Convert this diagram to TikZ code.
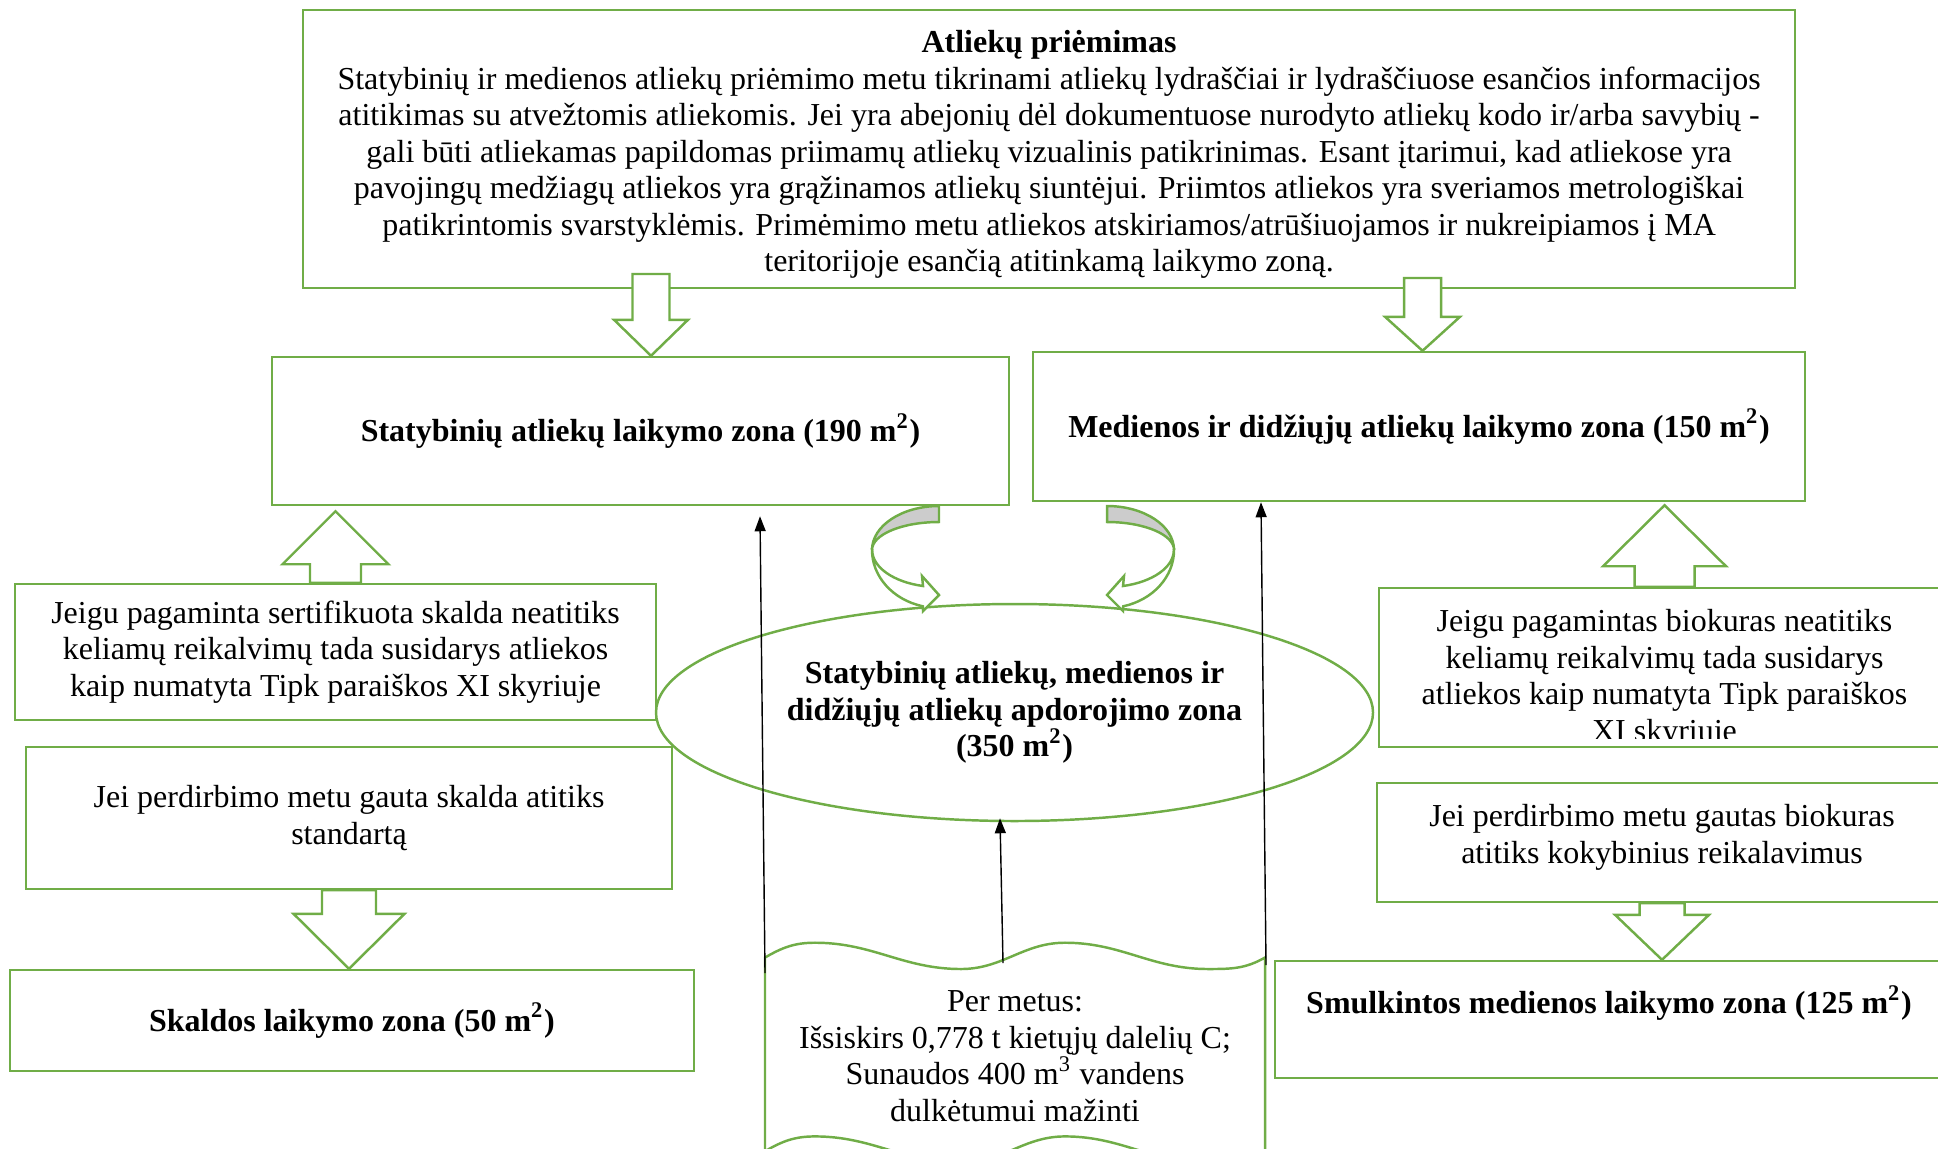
\documentclass[tikz,border=0pt]{standalone}
\usepackage{fontspec}
\setmainfont{Liberation Serif}
\usetikzlibrary{positioning, arrows.meta, calc, shapes.geometric}

\definecolor{leaf}{RGB}{112,173,71}
\definecolor{shade}{RGB}{204,204,204}
\newcommand{\zonefont}{\fontsize{9.1}{10.4}\selectfont}

% tail, tip, half shaft, half head, head length
\newcommand{\blockarrow}[5]{%
  \draw[fat] let \p1=(#1), \p2=(#2), \n1={sign(\y2-\y1)}, \n2={\y2-\n1*#5} in
    ({\x1-#3},\y1) -- ({\x1-#3},\n2) -- ({\x1-#4},\n2) -- (\x1,\y2)
    -- ({\x1+#4},\n2) -- ({\x1+#3},\n2) -- ({\x1+#3},\y1) -- cycle;}

\begin{document}
\begin{tikzpicture}[font=\zonefont,box/.style={draw=leaf, line width=0.7pt, fill=white, inner sep=0pt, align=center},fat/.style={draw=leaf, line width=0.7pt, fill=white},pointer/.style={-{Triangle[length=1.5mm,width=1.1mm]}, line width=0.4pt}]

  \clip (0,0) rectangle (19.38,-11.48);

  % Acceptance
  \node[box, minimum width=14.92cm, minimum height=2.78cm] (accept) at (10.49,-1.49) {};
  \node[inner sep=0pt, align=center, below=0.21cm of accept.north] (accepttext) {\textbf{Atliekų priėmimas}\\
    Statybinių ir medienos atliekų priėmimo metu tikrinami atliekų lydraščiai ir lydraščiuose esančios informacijos\\
    atitikimas su atvežtomis atliekomis. Jei yra abejonių dėl dokumentuose nurodyto atliekų kodo ir/arba savybių -\\
    gali būti atliekamas papildomas priimamų atliekų vizualinis patikrinimas. Esant įtarimui, kad atliekose yra\\
    pavojingų medžiagų atliekos yra grąžinamos atliekų siuntėjui. Priimtos atliekos yra sveriamos metrologiškai\\
    patikrintomis svarstyklėmis. Primėmimo metu atliekos atskiriamos/atrūšiuojamos ir nukreipiamos į MA\\
    teritorijoje esančią atitinkamą laikymo zoną.};

  % Storage zones
  \node[box, minimum width=7.37cm, minimum height=1.48cm, font=\zonefont\bfseries] (constr) at (6.405,-4.31) {Statybinių atliekų laikymo zona (190 m\textsuperscript{2})};
  \node[box, minimum width=7.72cm, minimum height=1.49cm, font=\zonefont\bfseries] (wood) at (14.19,-4.265) {Medienos ir didžiųjų atliekų laikymo zona (150 m\textsuperscript{2})};

  % Left side
  \node[box, minimum width=6.41cm, minimum height=1.36cm] (crushbad) at (3.355,-6.52) {Jeigu pagaminta sertifikuota skalda neatitiks\\ keliamų reikalvimų tada susidarys atliekos\\ kaip numatyta Tipk paraiškos XI skyriuje};
  \node[box, minimum width=6.46cm, minimum height=1.42cm] (crushok) at (3.49,-8.18) {Jei perdirbimo metu gauta skalda atitiks\\ standartą};
  \node[box, minimum width=6.84cm, minimum height=1.01cm, font=\zonefont\bfseries] (crushzone) at (3.52,-10.205) {Skaldos laikymo zona (50 m\textsuperscript{2})};

  % Right side
  \node[box, minimum width=5.71cm, minimum height=1.59cm] (biobad) at (16.645,-6.675) {};
  \begin{scope}
    \clip (biobad.north west) rectangle ([yshift=1mm]biobad.south east);
    \node[align=center, inner sep=0pt, below=0.22cm of biobad.north] (biobadtext) {Jeigu pagamintas biokuras neatitiks\\ keliamų reikalvimų tada susidarys\\ atliekos kaip numatyta Tipk paraiškos\\ XI skyriuje};
  \end{scope}
  \node[box, minimum width=5.70cm, minimum height=1.19cm] (biook) at (16.62,-8.425) {};
  \node[align=center, inner sep=0pt, below=0.22cm of biook.north] (biooktext) {Jei perdirbimo metu gautas biokuras\\ atitiks kokybinius reikalavimus};
  \node[box, minimum width=6.68cm, minimum height=1.17cm] (chipzone) at (16.09,-10.195) {};
  \node[inner sep=0pt, font=\zonefont\bfseries, below=0.25cm of chipzone.north] (chiptext) {Smulkintos medienos laikymo zona (125 m\textsuperscript{2})};

  % Block arrows
  \coordinate (accL) at (6.51,-2.74);
  \coordinate (accR) at (14.225,-2.78);
  \blockarrow{accL}{accL |- constr.north}{0.185cm}{0.37cm}{0.36cm}
  \blockarrow{accR}{accR |- wood.north}{0.185cm}{0.375cm}{0.34cm}
  \blockarrow{crushbad.north}{$(crushbad.north |- constr.south)+(0,-0.05)$}{0.255cm}{0.53cm}{0.53cm}
  \blockarrow{biobad.north}{$(biobad.north |- wood.south)+(0,-0.03)$}{0.30cm}{0.615cm}{0.61cm}
  \blockarrow{crushok.south}{crushok.south |- crushzone.north}{0.27cm}{0.555cm}{0.55cm}
  \blockarrow{biook.south}{biook.south |- chipzone.north}{0.225cm}{0.47cm}{0.45cm}

  % Processing zone
  \node[ellipse, draw=leaf, line width=0.7pt, fill=white, minimum width=7.17cm, minimum height=2.17cm, inner sep=0pt, align=center, font=\zonefont\bfseries] (process) at (10.145,-7.125) {Statybinių atliekų, medienos ir\\ didžiųjų atliekų apdorojimo zona\\ (350 m\textsuperscript{2})};

  % Curved arrows
  \foreach \flip in {1,-1} {
    \begin{scope}[xshift={10.23cm-\flip*10.23cm}, xscale=\flip]
      \filldraw[fat, fill=shade] (9.39,-5.06) arc[start angle=90, end angle=180, x radius=0.67cm, y radius=0.44cm] arc[start angle=180, end angle=90, x radius=0.67cm, y radius=0.28cm] -- cycle;
      \filldraw[fat] (8.72,-5.50) arc[start angle=180, end angle=256, x radius=0.67cm, y radius=0.58cm] -- (9.23,-6.11) -- (9.39,-5.95) -- (9.22,-5.76) -- (9.23,-5.86) arc[start angle=256, end angle=180, x radius=0.67cm, y radius=0.37cm] -- cycle;
    \end{scope}
  }

  % Yearly figures
  \draw[fat] (7.65,-9.575) to[out=30,in=180] (8.15,-9.427) to[out=0,in=180] (9.61,-9.69) to[out=0,in=180] (10.65,-9.427) to[out=0,in=180] (12.08,-9.69) to[out=0,in=210] (12.65,-9.575)
    -- (12.65,-11.512) to[out=210,in=0] (12.08,-11.627) to[out=180,in=0] (10.65,-11.364) to[out=180,in=0] (9.61,-11.627) to[out=180,in=0] (8.15,-11.364) to[out=180,in=30] (7.65,-11.512) -- cycle;
  \node[align=center, inner sep=0pt] (yearly) at (10.15,-10.56) {Per metus:\\ Išsiskirs 0,778 t kietųjų dalelių C;\\ Sunaudos 400 m\textsuperscript{3} vandens\\ dulkėtumui mažinti};
  \coordinate (docL) at (7.65,-9.73);
  \coordinate (docM) at (10.03,-9.63);
  \coordinate (docR) at (12.66,-9.65);

  \draw[pointer] (docL) -- ($(docL |- constr.south)+(-0.05,-0.10)$);
  \draw[pointer] (docM) -- ($(docM |- process.south)+(-0.03,0.04)$);
  \draw[pointer] (docR) -- ($(docR |- wood.south)+(-0.05,0)$);
\end{tikzpicture}
\end{document}
